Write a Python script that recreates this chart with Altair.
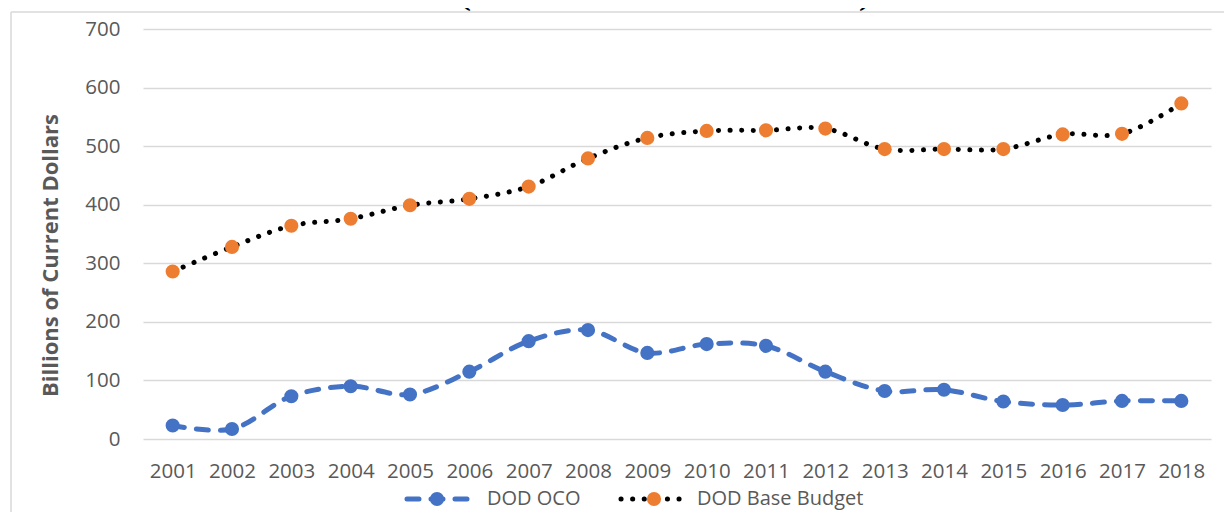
import altair as alt
import pandas as pd

years = [str(y) for y in range(2001, 2019)]
dod_oco = [23, 17, 73, 90, 76, 115, 167, 186, 147, 162, 159, 115, 82, 84, 64, 58, 65, 65]
dod_base = [286, 328, 364, 376, 399, 410, 431, 479, 514, 526, 527, 530, 495, 495, 495, 520, 521, 573]
series_names = ["DOD OCO", "DOD Base Budget"]
title_text = "(Billions of Current Dollars)"
y_title = "Billions of Current Dollars"

df = pd.DataFrame({"year": years, "oco": dod_oco, "base": dod_base})
one = pd.DataFrame({"a": [0]})

FONT = "Open Sans"
GRAY = "#595959"
BLUE = "#4472C4"
ORANGE = "#ED7D31"

x_enc = alt.X("year:O", title=None,
              axis=alt.Axis(labelAngle=0, labelFontSize=20.5, labelFont=FONT, labelColor=GRAY,
                            labelPadding=22, ticks=False, domain=False, grid=False))
y_axis = alt.Axis(values=list(range(0, 701, 100)), labelFontSize=20.5, labelFont=FONT, labelColor=GRAY,
                  labelPadding=23, ticks=False, domain=False, grid=True, gridColor="#d9d9d9",
                  gridWidth=1.5, title=y_title, titleFont=FONT, titleFontSize=22,
                  titleFontWeight="bold", titleColor=GRAY, titleAngle=-90, titleX=-93, titleY=226,
                  titleAlign="center", titleBaseline="middle")
y_scale = alt.Scale(domain=[0, 700], nice=False)

base = alt.Chart(df)

oco_line = base.mark_line(color=BLUE, strokeWidth=5, strokeDash=[12, 12], strokeCap="round",
                          interpolate="catmull-rom").encode(
    x=x_enc, y=alt.Y("oco:Q", scale=y_scale, axis=y_axis))
oco_pts = base.mark_circle(color=BLUE, size=200, opacity=1).encode(
    x="year:O", y=alt.Y("oco:Q", scale=y_scale))
base_line = base.mark_line(color="black", strokeWidth=5, strokeDash=[0.1, 11.5], strokeCap="round",
                           interpolate="catmull-rom").encode(
    x="year:O", y=alt.Y("base:Q", scale=y_scale))
base_pts = base.mark_circle(color=ORANGE, size=200, opacity=1).encode(
    x="year:O", y=alt.Y("base:Q", scale=y_scale))

o = alt.Chart(one)
border_left = o.mark_rule(color="#d9d9d9", strokeWidth=1.5).encode(
    x=alt.value(-132), y=alt.value(-17), y2=alt.value(700))
border_top = o.mark_rule(color="#d9d9d9", strokeWidth=1.5).encode(
    x=alt.value(-132), x2=alt.value(1200), y=alt.value(-17))
title = o.mark_text(font="DejaVu Serif", fontWeight="bold", fontSize=26, align="center",
                    baseline="alphabetic", color="black").encode(
    x=alt.value(522), y=alt.value(-22), text=alt.value(title_text))

leg_oco_line = o.mark_rule(color=BLUE, strokeWidth=5, strokeDash=[12, 12], strokeCap="round").encode(
    x=alt.value(264), x2=alt.value(324), y=alt.value(470))
leg_oco_pt = o.mark_circle(color=BLUE, size=200, opacity=1).encode(x=alt.value(294), y=alt.value(470))
leg_oco_txt = o.mark_text(font=FONT, fontSize=20, color=GRAY, align="left", baseline="middle").encode(
    x=alt.value(344), y=alt.value(470), text=alt.value(series_names[0]))
leg_base_line = o.mark_rule(color="black", strokeWidth=5, strokeDash=[0.1, 11.5], strokeCap="round").encode(
    x=alt.value(478), x2=alt.value(538), y=alt.value(470))
leg_base_pt = o.mark_circle(color=ORANGE, size=200, opacity=1).encode(x=alt.value(511), y=alt.value(470))
leg_base_txt = o.mark_text(font=FONT, fontSize=20, color=GRAY, align="left", baseline="middle").encode(
    x=alt.value(554), y=alt.value(470), text=alt.value(series_names[1]))

chart = alt.layer(
    oco_line, base_line, oco_pts, base_pts,
    border_left, border_top, title,
    leg_oco_line, leg_oco_pt, leg_oco_txt, leg_base_line, leg_base_pt, leg_base_txt,
).properties(
    width=1068, height=410,
    autosize=alt.AutoSizeParams(type="none"),
    padding={"left": 135, "top": 21, "right": 13, "bottom": 80},
    background="white",
).configure_view(stroke=None)

chart.save("out.html", embed_options={"renderer": "svg", "actions": False})
